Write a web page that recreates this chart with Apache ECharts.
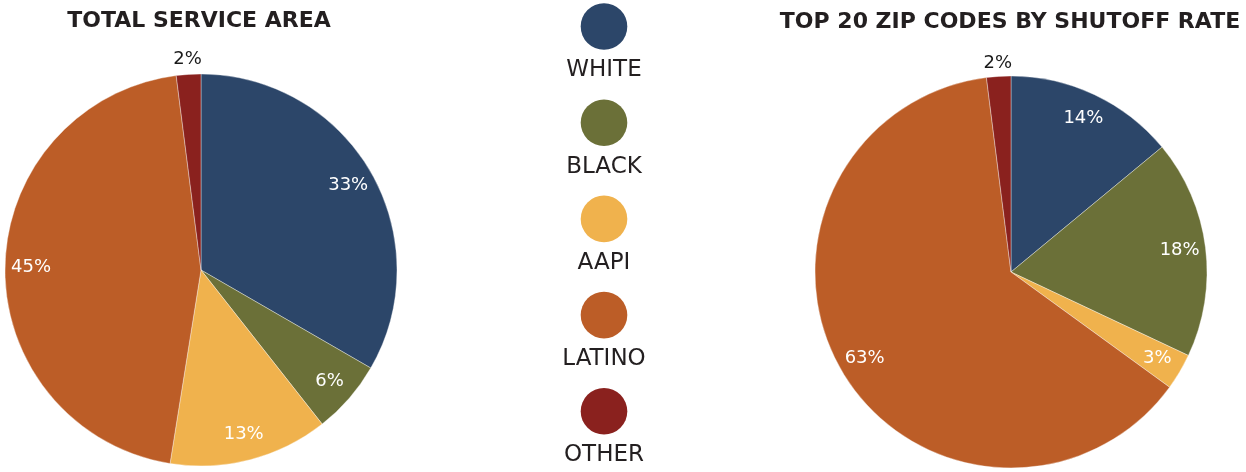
<!DOCTYPE html>
<html>
<head>
<meta charset="utf-8">
<script src="https://cdn.jsdelivr.net/npm/echarts@6/dist/echarts.min.js"></script>
<style>
  html, body { margin: 0; padding: 0; background: #ffffff; }
  #chart { width: 1246px; height: 472px; }
</style>
</head>
<body>
<div id="chart"></div>
<script>
// Racial/ethnic composition: whole service area vs. the 20 zip codes with the highest shutoff rate
const categories = ['WHITE', 'BLACK', 'AAPI', 'LATINO', 'OTHER'];
const serviceArea = [33, 6, 13, 45, 2];
const topShutoffZips = [14, 18, 3, 63, 2];
const groupColors = ['#2c4669', '#6b7038', '#f0b24d', '#bc5d27', '#8a211e'];
const pieTitles = ['TOTAL SERVICE AREA', 'TOP 20 ZIP CODES BY SHUTOFF RATE'];

const FONT = '"DejaVu Sans", "Open Sans", sans-serif';
const R = 196;
const pieCenters = [[201, 270], [1011, 272]];
const titleCenters = [[194, 5], [1005, 6]];
const smallLabelGap = [15, 13];

function toData(values, opts) {
  return values.map((v, i) => Object.assign({
    name: categories[i],
    value: v,
    itemStyle: { color: groupColors[i] }
  }, opts ? opts(i) : {}));
}

const pctLabel = p => Math.round(p.value) + '%';
const isSmall = i => categories[i] === 'OTHER';

function pieSeries(values, center, gap) {
  return [
    // coloured wedges; the thin slice gets its value just outside the rim
    {
      type: 'pie', center: center, radius: [0, R], startAngle: 90,
      silent: true, avoidLabelOverlap: false,
      itemStyle: { borderColor: 'rgba(255,255,255,0.6)', borderWidth: 0.6 },
      label: {
        show: false, position: 'outside', formatter: pctLabel,
        color: '#1a1a1a', fontFamily: FONT, fontSize: 18,
        distanceToLabelLine: 0
      },
      labelLine: { show: false, length: gap, length2: 0 },
      labelLayout: { align: 'center', verticalAlign: 'middle' },
      data: toData(values, i => ({ label: { show: isSmall(i) } }))
    },
    // value labels placed near the rim, inside each wedge
    {
      type: 'pie', center: center, radius: [138, R], startAngle: 90,
      silent: true, labelLine: { show: false },
      itemStyle: { color: 'rgba(0,0,0,0)', borderWidth: 0 },
      label: {
        show: true, position: 'inside', formatter: pctLabel,
        color: '#ffffff', fontFamily: FONT, fontSize: 18
      },
      data: toData(values, i => ({
        itemStyle: { color: 'rgba(0,0,0,0)' },
        label: { show: !isSmall(i) }
      }))
    }
  ];
}

// Legend column: a dot with its group name underneath
const legendTop = 26.5, legendStep = 96.2, legendX = 604;
const legendGraphics = [];
categories.forEach((name, i) => {
  const cy = legendTop + i * legendStep;
  legendGraphics.push({
    type: 'circle', silent: true,
    shape: { cx: legendX, cy: cy, r: 23.3 },
    style: { fill: groupColors[i] }
  });
  legendGraphics.push({
    type: 'text', silent: true, x: legendX, y: cy + 44,
    style: {
      text: name, fill: '#231f20', font: '500 23px ' + FONT,
      align: 'center', verticalAlign: 'middle'
    }
  });
});

const chart = echarts.init(document.getElementById('chart'), null, { renderer: 'canvas' });
chart.setOption({
  backgroundColor: '#ffffff',
  animation: false,
  title: pieTitles.map((t, i) => ({
    text: t, left: titleCenters[i][0], top: titleCenters[i][1], textAlign: 'center',
    textStyle: { fontFamily: FONT, fontSize: 22, fontWeight: 600, color: '#231f20' }
  })),
  graphic: legendGraphics,
  series: [].concat(
    pieSeries(serviceArea, pieCenters[0], smallLabelGap[0]),
    pieSeries(topShutoffZips, pieCenters[1], smallLabelGap[1])
  )
});
</script>
</body>
</html>
